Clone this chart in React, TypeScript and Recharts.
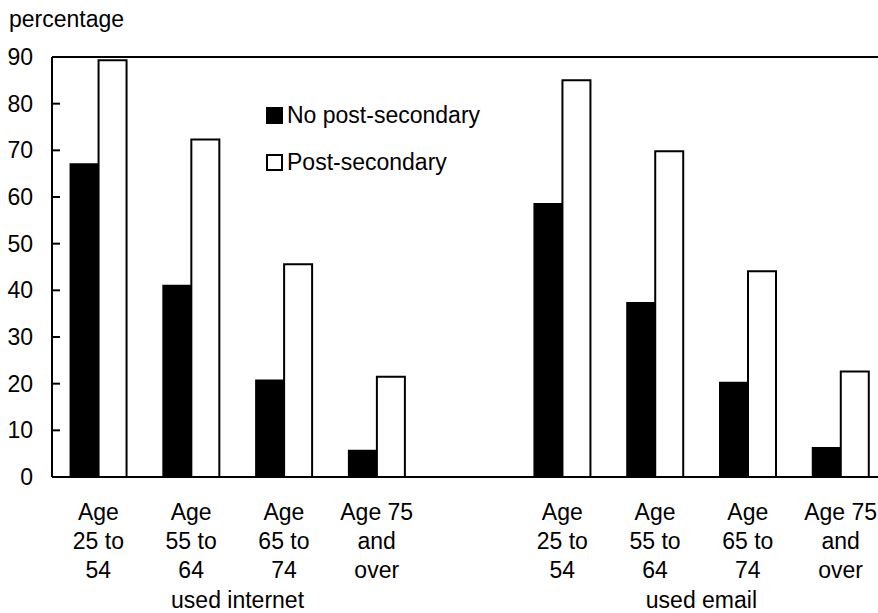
import React from "react";
import { BarChart, Bar, XAxis, YAxis, Legend, ReferenceLine } from "recharts";

const categories = [
  "Age 25 to 54",
  "Age 55 to 64",
  "Age 65 to 74",
  "Age 75 and over",
  "",
  "Age 25 to 54",
  "Age 55 to 64",
  "Age 65 to 74",
  "Age 75 and over",
];

const tickLines = [
  ["Age", "25 to", "54"],
  ["Age", "55 to", "64"],
  ["Age", "65 to", "74"],
  ["Age 75", "and", "over"],
  [],
  ["Age", "25 to", "54"],
  ["Age", "55 to", "64"],
  ["Age", "65 to", "74"],
  ["Age 75", "and", "over"],
];

const noPostSecondary = [67.0, 41.0, 20.7, 5.6, null, 58.5, 37.3, 20.2, 6.2];
const postSecondary = [89.3, 72.3, 45.6, 21.5, null, 85.0, 69.8, 44.1, 22.6];

const groups = [
  { label: "used internet", first: 0, last: 3 },
  { label: "used email", first: 5, last: 8 },
];

const yTicks = [0, 10, 20, 30, 40, 50, 60, 70, 80, 90];

const data = categories.map((name, i) => ({
  name,
  noPost: noPostSecondary[i],
  post: postSecondary[i],
}));

const FONT = "'Liberation Sans', Arial, sans-serif";
const FS = 23;

const CategoryTick = (props: any) => {
  const { x, y, index, width } = props;
  const lines = tickLines[index] || [];
  const slot = width / categories.length;
  const group = groups.find((g) => g.first === index);
  return (
    <g>
      {lines.map((line, i) => (
        <text
          key={i}
          x={x}
          y={y + 43 + i * 29}
          textAnchor="middle"
          fontSize={FS}
          fontFamily={FONT}
          fill="#000"
        >
          {line}
        </text>
      ))}
      {group && (
        <text
          x={x + (slot * (group.last - group.first)) / 2}
          y={y + 44 + 3 * 29}
          textAnchor="middle"
          fontSize={FS}
          fontFamily={FONT}
          fill="#000"
        >
          {group.label}
        </text>
      )}
    </g>
  );
};

const LegendBox = (props: any) => {
  const { payload } = props;
  return (
    <div style={{ fontFamily: FONT, fontSize: FS, color: "#000" }}>
      {(payload || []).map((entry: any, i: number) => (
        <div
          key={i}
          style={{ display: "flex", alignItems: "center", height: 47 }}
        >
          <svg width={17} height={17} style={{ marginRight: 4 }}>
            <rect
              x={1}
              y={1}
              width={15}
              height={15}
              fill={entry.payload?.fill ?? entry.color}
              stroke="#000"
              strokeWidth={2}
            />
          </svg>
          <span>{entry.value}</span>
        </div>
      ))}
    </div>
  );
};

export default function App() {
  return (
    <div
      style={{
        position: "absolute",
        left: 0,
        top: 0,
        width: 878,
        height: 613,
        overflow: "hidden",
        background: "#fff",
        fontFamily: FONT,
      }}
    >
      <div
        style={{
          position: "absolute",
          left: 9,
          top: 6,
          fontSize: FS,
          fontFamily: FONT,
          color: "#000",
        }}
      >
        percentage
      </div>
      <BarChart
        width={890}
        height={613}
        data={data}
        margin={{ top: 57, right: 3, left: 0, bottom: 6 }}
        barCategoryGap="20%"
        barGap={0}
      >
        <XAxis
          dataKey="name"
          interval={0}
          height={130}
          tickLine={false}
          tickSize={0}
          tickMargin={0}
          axisLine={{ stroke: "#000", strokeWidth: 2 }}
          tick={<CategoryTick />}
        />
        <YAxis
          width={52}
          domain={[0, 90]}
          ticks={yTicks}
          interval={0}
          tickSize={-8}
          tickMargin={27}
          axisLine={{ stroke: "#000", strokeWidth: 2 }}
          tickLine={{ stroke: "#000", strokeWidth: 2 }}
          tick={{ fill: "#000", fontSize: FS, fontFamily: FONT }}
        />
        <ReferenceLine y={90} stroke="#000" strokeWidth={2} />
        <Legend
          layout="vertical"
          align="center"
          verticalAlign="middle"
          wrapperStyle={{ left: 266, top: 92, width: 280 }}
          content={<LegendBox />}
        />
        <Bar
          dataKey="noPost"
          name="No post-secondary"
          fill="#000"
          stroke="#000"
          strokeWidth={2}
          isAnimationActive={false}
        />
        <Bar
          dataKey="post"
          name="Post-secondary"
          fill="#fff"
          stroke="#000"
          strokeWidth={2}
          isAnimationActive={false}
        />
      </BarChart>
    </div>
  );
}
